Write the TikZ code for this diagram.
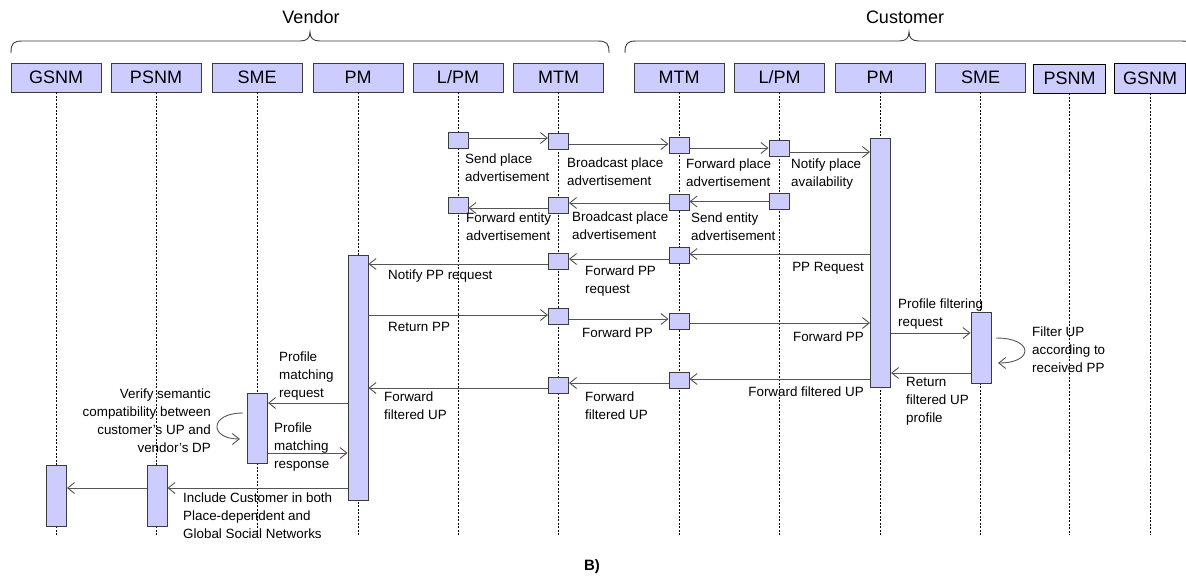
\documentclass[tikz,border=0pt]{standalone}
\usepackage{fontspec}
\setmainfont{Liberation Sans}
\usetikzlibrary{arrows.meta}
\definecolor{lav}{RGB}{204,204,255}
\definecolor{edge}{RGB}{60,60,60}
\definecolor{wire}{RGB}{85,85,85}

\begin{document}
\begin{tikzpicture}[x=1pt,y=-1pt,
  head/.style={draw=edge, line width=0.9pt, fill=lav, minimum width=90pt, minimum height=29pt,
    inner sep=0pt, font=\fontsize{18}{21}\selectfont},
  sq/.style={draw=edge, line width=0.9pt, fill=lav, minimum width=20pt, minimum height=16pt, inner sep=0pt},
  bar/.style={draw=edge, line width=0.9pt, fill=lav, minimum width=20pt, inner sep=0pt},
  life/.style={black, line width=0.7pt, dash pattern=on 2pt off 1.5pt},
  msg/.style={wire, line width=0.9pt, -{Straight Barb[length=7pt,width=11pt]}},
  lbl/.style={inner sep=0pt, font=\fontsize{13.4}{18}\selectfont, align=left, anchor=north west},
  lblr/.style={lbl, align=right, anchor=north east},
  brace/.style={edge, line width=0.9pt},
  group/.style={inner sep=0pt, font=\fontsize{18}{21}\selectfont},
]
\useasboundingbox (0,0) rectangle (1186,578);

% ---------- group braces ----------
\node[group] (vendor) at (311,17) {Vendor};
\node[group] (customer) at (905,17) {Customer};
\draw[brace] (11,53) .. controls (11,43) and (13,41) .. (23,41) -- (300,41)
  .. controls (307,41) and (310,38) .. (310,32)
  .. controls (310,38) and (313,41) .. (320,41) -- (597,41)
  .. controls (607,41) and (609,43) .. (609,53);
\begin{scope}
  \clip (0,0) rectangle (1186,578);
  \draw[brace] (625,53) .. controls (625,43) and (627,41) .. (637,41) -- (899,41)
    .. controls (906,41) and (909,38) .. (909,32)
    .. controls (909,38) and (912,41) .. (919,41) -- (1181,41)
    .. controls (1191,41) and (1193,43) .. (1193,53);
\end{scope}

% ---------- participants ----------
\node[head] (vG) at (56,77.5) {GSNM};
\node[head] (vPS) at (156,77.5) {PSNM};
\node[head] (vS) at (257,77.5) {SME};
\node[head] (vP) at (358,77.5) {PM};
\node[head] (vL) at (458,77.5) {L/PM};
\node[head] (vM) at (558.5,77.5) {MTM};
\node[head] (cM) at (679,77.5) {MTM};
\node[head] (cL) at (779.5,77.5) {L/PM};
\node[head] (cP) at (880,77.5) {PM};
\node[head] (cS) at (980.5,77.5) {SME};
\node[head, draw=black, minimum width=72pt, minimum height=29pt] (cPS) at (1069.5,78.5) {PSNM};
\node[head, draw=black, minimum width=71pt, minimum height=30pt] (cG) at (1150,78) {GSNM};

% ---------- lifelines ----------
\coordinate (lifeend) at (0,535);
\foreach \h in {vG,vPS,vS,vP,vL,vM,cM,cL,cP,cS,cPS,cG}
  \draw[life] (\h.south) -- (\h.south |- lifeend);

% ---------- activation bars ----------
\node[bar, minimum height=249pt] (cpm) at (880.5,262.5) {};
\node[bar, minimum height=71pt] (csme) at (981,347.5) {};
\node[bar, minimum height=245pt] (vpm) at (358,377.5) {};
\node[bar, minimum height=70pt] (vsme) at (257.5,428) {};
\node[bar, minimum height=61pt] (vgs) at (56.5,495.5) {};
\node[bar, minimum height=61pt] (vps) at (157,495.5) {};

% ---------- relay squares ----------
\node[sq] (v1) at (458,140) {};
\node[sq] (m1) at (558.5,141.5) {};
\node[sq] (c1) at (679,145.5) {};
\node[sq] (l1) at (779,148.5) {};
\node[sq] (l2) at (779,201.5) {};
\node[sq] (c2) at (679,202) {};
\node[sq] (m2) at (558.5,205) {};
\node[sq] (v2) at (458,205) {};
\node[sq] (c3) at (679,255.5) {};
\node[sq] (m3) at (558.5,261) {};
\node[sq] (m4) at (558.5,316.5) {};
\node[sq] (c4) at (679,321) {};
\node[sq] (c6) at (679,380) {};
\node[sq] (m6) at (558.5,385) {};

% ---------- exit points of the messages ----------
\path ([yshift=2pt]v1.east) coordinate (v1o)
      ([yshift=-2.5pt]m1.east) coordinate (m1o)
      ([yshift=-2.5pt]c1.east) coordinate (c1o)
      ([yshift=-3.5pt]l1.east) coordinate (l1o)
      ([yshift=-1pt]c2.west) coordinate (c2o)
      ([yshift=-3pt]m2.west) coordinate (m2o)
      ([yshift=-3.5pt]c3.west) coordinate (c3o)
      ([yshift=-3pt]m3.west) coordinate (m3o)
      ([yshift=-2.5pt]m4.east) coordinate (m4o)
      ([yshift=-2pt]c4.east) coordinate (c4o)
      ([yshift=-3pt]c6.west) coordinate (c6o)
      ([yshift=-3pt]m6.west) coordinate (m6o);
\coordinate (yPF) at (0,333);
\coordinate (yRF) at (0,373);
\coordinate (yPMq) at (0,403);
\coordinate (yPMr) at (0,453);
\coordinate (yInc) at (0,488);

% ---------- place advertisement ----------
\draw[msg] (v1o) -- (v1o -| m1.west);
\draw[msg] (m1o) -- (m1o -| c1.west);
\draw[msg] (c1o) -- (c1o -| l1.west);
\draw[msg] (l1o) -- (l1o -| cpm.west);
\node[lbl] (t1) at (465,154) {Send place\\advertisement};
\node[lbl] (t2) at (567,158) {Broadcast place\\advertisement};
\node[lbl] (t3) at (686,159) {Forward place\\advertisement};
\node[lbl] (t4) at (791,159) {Notify place\\availability};

% ---------- entity advertisement ----------
\draw[msg] (l2.west) -- (l2.west -| c2.east);
\draw[msg] (c2o) -- (c2o -| m2.east);
\draw[msg] (m2o) -- (m2o -| v2.east);
\node[lbl] (t5) at (466,213) {Forward entity\\advertisement};
\node[lbl] (t6) at (572,212) {Broadcast place\\advertisement};
\node[lbl] (t7) at (691,213) {Send entity\\advertisement};

% ---------- PP request ----------
\draw[msg] ([yshift=1.5pt]c3.east -| cpm.west) -- ([yshift=1.5pt]c3.east);
\draw[msg] (c3o) -- (c3o -| m3.east);
\draw[msg] (m3o) -- (m3o -| vpm.east);
\node[lblr] (t8) at (864,262) {PP Request};
\node[lbl] (t9) at (585,266) {Forward PP\\request};
\node[lbl] (t10) at (388,270) {Notify PP request};

% ---------- PP return ----------
\draw[msg] ([yshift=1.5pt]m4.west -| vpm.east) -- ([yshift=1.5pt]m4.west);
\draw[msg] (m4o) -- (m4o -| c4.west);
\draw[msg] (c4o) -- (c4o -| cpm.west);
\node[lbl] (t11) at (388,322) {Return PP};
\node[lbl] (t12) at (582,328) {Forward PP};
\node[lblr] (t13) at (864,332) {Forward PP};

% ---------- profile filtering ----------
\draw[msg] (cpm.east |- yPF) -- (csme.west |- yPF);
\draw[msg] (csme.west |- yRF) -- (cpm.east |- yRF);
\coordinate (fl1) at (996,338);
\coordinate (fl2) at (998,363);
\draw[msg] (fl1) .. controls (1034,338) and (1034,363) .. (fl2);
\node[lbl] (t14) at (898,299) {Profile filtering\\request};
\node[lbl] (t15) at (1032,327) {Filter UP\\according to\\received PP};
\node[lbl] (t16) at (906,377) {Return\\filtered UP\\profile};

% ---------- filtered UP forwarding ----------
\draw[msg] ([yshift=1pt]c6.east -| cpm.west) -- ([yshift=1pt]c6.east);
\draw[msg] (c6o) -- (c6o -| m6.east);
\draw[msg] (m6o) -- (m6o -| vpm.east);
\node[lblr] (t17) at (864,387) {Forward filtered UP};
\node[lbl] (t18) at (585,392) {Forward\\filtered UP};
\node[lbl] (t19) at (384,392) {Forward\\filtered UP};

% ---------- profile matching ----------
\draw[msg] (vpm.west |- yPMq) -- (vsme.east |- yPMq);
\draw[msg] (vsme.east |- yPMr) -- (vpm.west |- yPMr);
\coordinate (vl1) at (243,413);
\coordinate (vl2) at (240,439);
\draw[msg] (vl1) .. controls (209,413) and (209,439) .. (vl2);
\node[lbl] (t20) at (279,352) {Profile\\matching\\request};
\node[lbl] (t21) at (274,423) {Profile\\matching\\response};
\node[lblr] (t22) at (211,389) {Verify semantic\\compatibility between\\customer's UP and\\vendor's DP};

% ---------- social network inclusion ----------
\draw[msg] (vpm.west |- yInc) -- (vps.east |- yInc);
\draw[msg] (vps.west |- yInc) -- (vgs.east |- yInc);
\node[lbl] (t23) at (183,493) {Include Customer in both\\Place-dependent and\\Global Social Networks};

\node[inner sep=0pt, font=\fontsize{15}{17}\selectfont\bfseries] (cap) at (592,567) {B)};
\end{tikzpicture}
\end{document}
